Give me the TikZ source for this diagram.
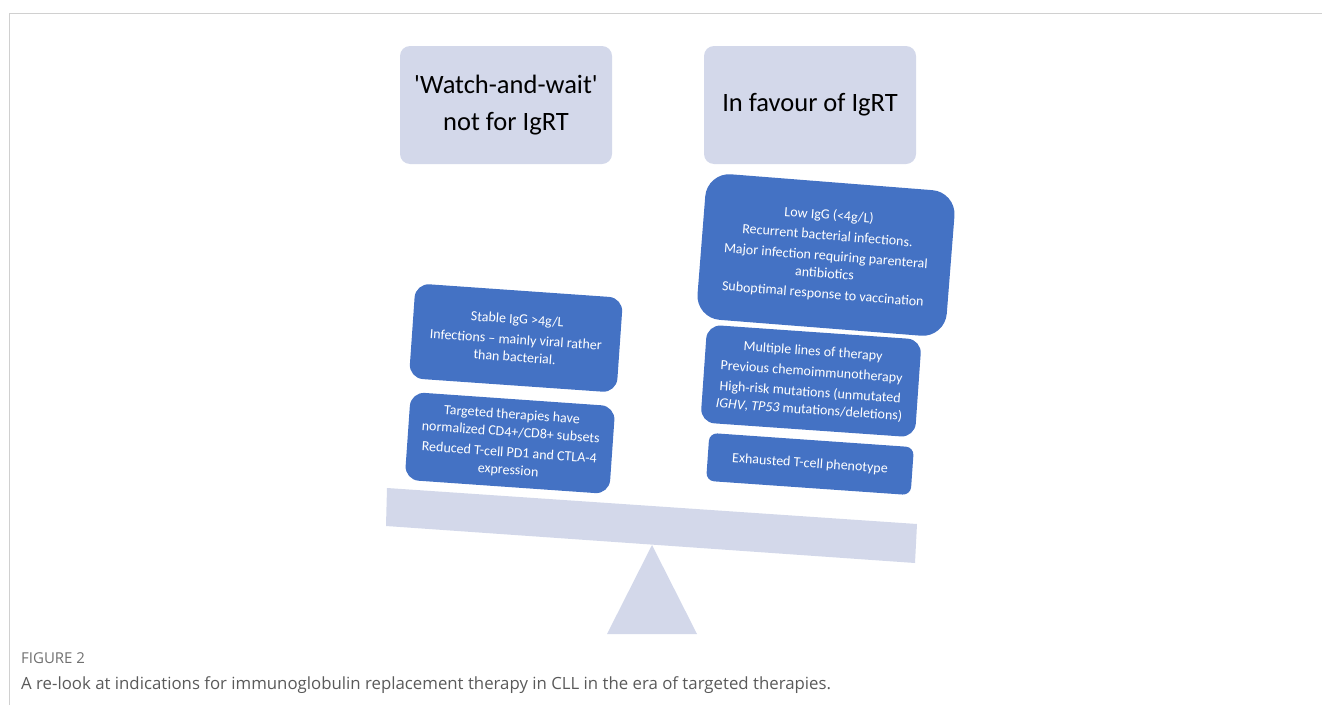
\documentclass[tikz,border=0pt]{standalone}
\usepackage{fontspec}
\setmainfont{Carlito}
\newfontfamily\capfont{Open Sans}
\definecolor{lav}{HTML}{D3D8EA}
\definecolor{blu}{HTML}{4472C4}
\definecolor{framegray}{HTML}{D0D0D0}
\definecolor{capgray}{HTML}{5A5A5A}
\definecolor{figgray}{HTML}{707070}
\begin{document}
\begin{tikzpicture}[x=1pt,y=-1pt,
  head/.style={fill=lav,rounded corners=10pt,minimum width=212pt,minimum height=118pt,
    align=center,font=\fontsize{26.5}{37}\selectfont,text=black,inner sep=0pt},
  bluebox/.style={fill=blu,rounded corners=14pt,align=center,text=white,rotate=-4,
    font=\fontsize{14}{17.5}\selectfont,inner sep=0pt}]
\useasboundingbox (0,0) rectangle (1322,715);
% frame
\draw[framegray,line width=1pt] (9,705) -- (9,13) -- (1322,13);
% headers
\node[head,text depth=5pt] (hl) at (506,105) {\textquotesingle Watch-and-wait\textquotesingle\\not for IgRT};
\node[head] (hr) at (810,105) {In favour of IgRT};
% beam and fulcrum
\fill[lav] (387,488) -- (917,524) -- (915,563) -- (386,526) -- cycle;
\fill[lav] (652,545) -- (697,634) -- (607,634) -- cycle;
% left boxes
\node[bluebox,minimum width=208pt,minimum height=95pt] (a) at (516,338)
  {Stable IgG >4g/L\\[3pt]Infections -- mainly viral rather\\than bacterial.};
\node[bluebox,minimum width=205pt,minimum height=88pt] (b) at (510,443)
  {Targeted therapies have\\normalized CD4+/CD8+ subsets\\[3pt]Reduced T-cell PD1 and CTLA-4\\expression};
% right boxes
\node[bluebox,rounded corners=24pt,rotate=-0.5,minimum width=250pt,minimum height=146pt] (c) at (826,255)
  {Low IgG (<4g/L)\\[3pt]Recurrent bacterial infections.\\[3pt]Major infection requiring parenteral\\antibiotics\\[3pt]Suboptimal response to vaccination};
\node[bluebox,minimum width=215pt,minimum height=98pt] (d) at (811,381)
  {Multiple lines of therapy\\[3pt]Previous chemoimmunotherapy\\[3pt]High-risk mutations (unmutated\\\textit{IGHV}, \textit{TP53} mutations/deletions)};
\node[bluebox,rounded corners=8pt,minimum width=205pt,minimum height=48pt] (e) at (810,464)
  {Exhausted T-cell phenotype};
% caption
\node[anchor=west,inner sep=0pt,font=\capfont\fontsize{15}{17}\selectfont,text=figgray] (fig) at (21,658) {FIGURE 2};
\node[anchor=west,inner sep=0pt,font=\capfont\fontsize{16.8}{19}\selectfont,text=capgray] (cap) at (21,685)
  {A re-look at indications for immunoglobulin replacement therapy in CLL in the era of targeted therapies.};
\end{tikzpicture}
\end{document}
